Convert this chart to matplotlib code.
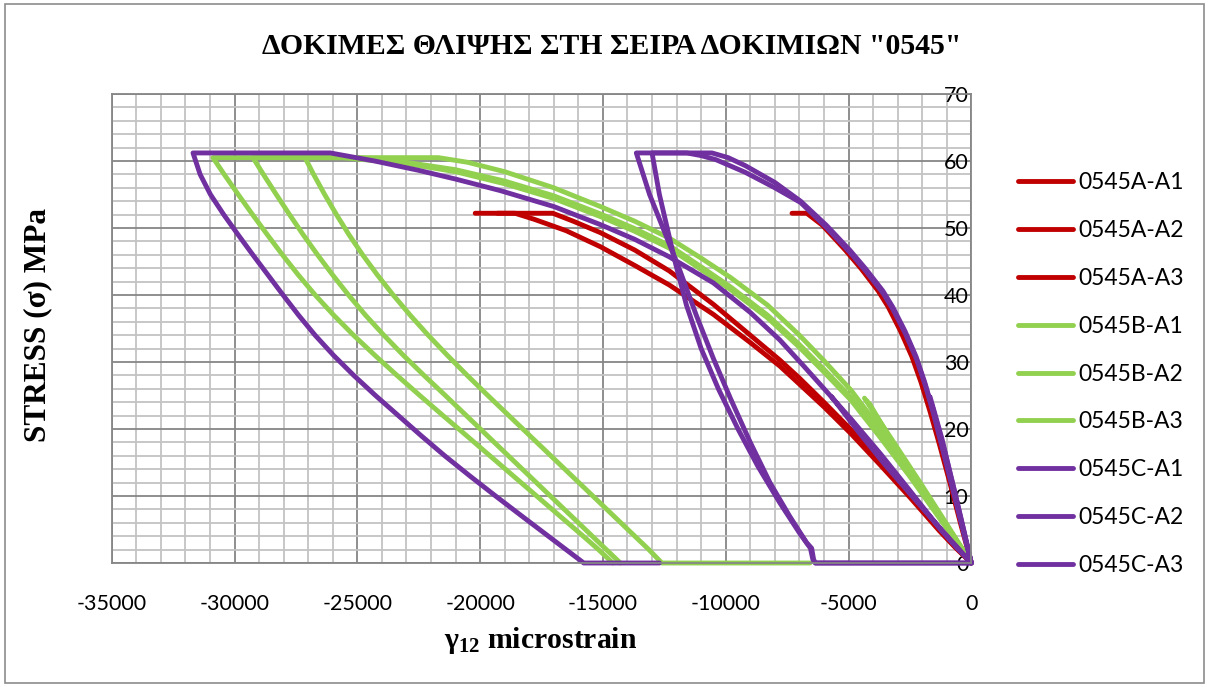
import matplotlib
matplotlib.use("Agg")
import matplotlib.pyplot as plt
from matplotlib.patches import Rectangle
from matplotlib.ticker import MultipleLocator

# shear strain (microstrain) / stress (MPa) readings for each specimen
# series A
a1_x = [0, -650, -1300, -2500, -3700, -4900, -6000, -7000, -7800, -9000, -10500,
        -12300, -13700, -15100, -16200, -17040, -20200]
a1_y = [0, 2.4, 5.0, 10.2, 15.2, 19.9, 24.0, 27.6, 30.3, 34.0, 38.6,
        43.6, 46.7, 49.3, 51.0, 52.2, 52.2]

a2_x = [0, -650, -1300, -2500, -3700, -4900, -6000, -7000, -7800, -9000, -10500,
        -12300, -13700, -15100, -16500, -17800, -18580, -19300]
a2_y = [0, 2.3, 4.8, 9.8, 14.6, 19.3, 23.3, 26.7, 29.4, 32.9, 37.1,
        41.5, 44.4, 47.2, 49.6, 51.3, 52.2, 52.2]

a3_x = [0, -440, -860, -1290, -1680, -2050, -2420, -2880, -3380, -3790, -4480,
        -5130, -6060, -6700, -7300]
a3_y = [0, 5.9, 11.8, 17.6, 22.6, 27.0, 30.8, 34.6, 38.2, 40.6, 43.9,
        46.7, 50.4, 52.2, 52.2]

# series B
b1_x = [-4350, -3300, -2100, -1000, 0, -650, -1300, -2500, -3700, -4900, -6000,
        -7000, -8300, -9800, -11000, -12300, -13700, -15100, -17000, -19000,
        -20500, -21700, -27130, -26780, -26330, -25850, -25340, -24785, -24185,
        -23540, -22850, -22115, -21335, -20525, -19685, -18830, -17975, -17120,
        -16265, -15410, -14555, -13700, -13130, -12600, -6570]
b1_y = [24.6, 18.8, 12.1, 5.8, 0, 3.6, 7.2, 13.8, 20.0, 25.8, 30.2,
        34.0, 38.5, 42.6, 45.5, 48.5, 51.0, 53.2, 56.0, 58.4,
        59.8, 60.5, 60.5, 58, 55, 52, 49, 46, 43,
        40, 37, 34, 31, 28, 25, 22, 19, 16,
        13, 10, 7, 4, 2, 0, 0]

b2_x = [-4250, -3250, -2050, -1000, 0, -650, -1300, -2500, -3700, -4900, -6000,
        -7000, -8300, -9800, -11000, -12300, -13700, -15100, -17000, -19000,
        -21000, -23000, -25000, -29250, -28825, -28300, -27760, -27205, -26620,
        -26005, -25360, -24670, -23920, -23125, -22285, -21415, -20560, -19705,
        -18850, -17995, -17140, -16285, -15430, -14860, -14290]
b2_y = [24.2, 18.2, 11.6, 5.5, 0, 3.4, 6.9, 13.2, 19.1, 24.7, 28.9,
        32.6, 37.0, 41.2, 44.2, 47.4, 49.9, 52.1, 54.8, 57.0,
        58.7, 59.8, 60.5, 60.5, 58, 55, 52, 49, 46,
        43, 40, 37, 34, 31, 28, 25, 22, 19,
        16, 13, 10, 7, 4, 2, 0]

b3_x = [-4150, -3200, -2000, -950, 0, -650, -1300, -2500, -3700, -4900, -6000,
        -7000, -8300, -9800, -11000, -12300, -13700, -15100, -17000, -19000,
        -21000, -23000, -25600, -30880, -30420, -29850, -29265, -28665, -28050,
        -27405, -26715, -25965, -25155, -24285, -23385, -22455, -21510, -20550,
        -19600, -18650, -17700, -16750, -15800, -15180, -14600]
b3_y = [23.8, 17.9, 11.2, 5.2, 0, 3.3, 6.7, 12.9, 18.7, 24.3, 28.5,
        32.2, 36.6, 40.8, 43.8, 47.0, 49.5, 51.7, 54.4, 56.6,
        58.4, 59.6, 60.5, 60.5, 58, 55, 52, 49, 46,
        43, 40, 37, 34, 31, 28, 25, 22, 19,
        16, 13, 10, 7, 4, 2, 0]

# series C
c1_x = [-5685, -4600, -3500, -2300, -1100, 0, -650, -1300, -2500, -3700, -4900,
        -5700, -6800, -7800, -9000, -10500, -12300, -13700, -15100, -17000,
        -19200, -21000, -22500, -24300, -26100, -31690, -31400, -30980, -30440,
        -29855, -29255, -28640, -28025, -27395, -26720, -25970, -25145, -24260,
        -23330, -22400, -21440, -20420, -19370, -18300, -17220, -16500, -15780,
        -12700]
c1_y = [24.8, 19.6, 14.6, 9.5, 4.5, 0, 2.5, 5.2, 10.8, 16.3, 21.5,
        24.8, 29.3, 33.3, 37.4, 41.8, 45.7, 48.3, 50.5, 53.2,
        55.6, 57.3, 58.6, 60.0, 61.2, 61.2, 58, 55, 52,
        49, 46, 43, 40, 37, 34, 31, 28, 25,
        22, 19, 16, 13, 10, 7, 4, 2, 0,
        0]

c2_x = [-1680, -1200, -700, -300, 0, -400, -800, -1200, -1550, -1900, -2250,
        -2700, -3200, -3600, -4300, -4950, -5900, -6950, -8000, -9200, -9900,
        -10560, -13640, -13100, -12500, -11850, -11200, -10500, -9800, -9000,
        -8200, -7400, -6700, -6500, -6420, -6350, 0]
c2_y = [24.8, 18.6, 11.0, 4.8, 0, 5.9, 11.8, 17.6, 22.6, 27.0, 30.8,
        34.6, 38.2, 40.6, 43.9, 46.7, 50.4, 54.0, 56.8, 59.3, 60.5,
        61.2, 61.2, 55.0, 49.5, 43.5, 37.0, 30.5, 24.5, 18.0,
        12.0, 7.0, 3.0, 2.2, 0.5, 0, 0]

c3_x = [-1600, -1150, -650, -280, 0, -380, -780, -1180, -1530, -1880, -2230,
        -2680, -3180, -3580, -4280, -4930, -5880, -6950, -8000, -9200, -10400,
        -11000, -11580, -13000, -12700, -12350, -12050, -11600, -11000, -10300,
        -9500, -8700, -7800, -7000, -6550, -6450, -6350, 0]
c3_y = [23.6, 17.6, 10.2, 4.4, 0, 5.6, 11.4, 17.2, 22.2, 26.6, 30.4,
        34.2, 37.8, 40.2, 43.5, 46.3, 50.0, 53.8, 56.0, 58.3, 60.2,
        60.8, 61.2, 61.2, 55.0, 49.5, 44.8, 38.5, 32.0, 26.0,
        20.0, 14.5, 9.0, 4.5, 2.2, 0.5, 0, 0]

labels = ["0545A-A1", "0545A-A2", "0545A-A3",
          "0545B-A1", "0545B-A2", "0545B-A3",
          "0545C-A1", "0545C-A2", "0545C-A3"]
series = [(a1_x, a1_y), (a2_x, a2_y), (a3_x, a3_y),
          (b1_x, b1_y), (b2_x, b2_y), (b3_x, b3_y),
          (c1_x, c1_y), (c2_x, c2_y), (c3_x, c3_y)]
colors = ["#C00000"] * 3 + ["#92D050"] * 3 + ["#7030A0"] * 3

plt.rcParams["axes.unicode_minus"] = False
plt.rcParams["mathtext.fontset"] = "custom"
plt.rcParams["mathtext.rm"] = "Liberation Serif:bold"
plt.rcParams["mathtext.it"] = "Liberation Serif:bold"
plt.rcParams["mathtext.bf"] = "Liberation Serif:bold"

major_col = "#868686"
minor_col = "#c3c3c3"

fig = plt.figure(figsize=(12.09, 6.87), dpi=100)
ax = fig.add_axes([0.0924, 0.1805, 0.7110, 0.6827])

for (xs, ys), lab, col in zip(series, labels, colors):
    ax.plot(xs, ys, color=col, lw=3.5, label=lab, clip_on=False,
            solid_capstyle="round", solid_joinstyle="round")

ax.set_xlim(-35000, 0)
ax.set_ylim(0, 70)
ax.xaxis.set_major_locator(MultipleLocator(5000))
ax.xaxis.set_minor_locator(MultipleLocator(1000))
ax.yaxis.set_major_locator(MultipleLocator(10))
ax.yaxis.set_minor_locator(MultipleLocator(2))
ax.grid(which="minor", color=minor_col, lw=1.3, zorder=0)
ax.grid(which="major", color=major_col, lw=1.3, zorder=0)
ax.set_axisbelow(True)

# y labels sit next to the x=0 line, inside the plot
ax.spines["left"].set_position(("data", 0))
ax.spines["left"].set_visible(False)
for s in ["top", "right", "bottom"]:
    ax.spines[s].set_color(major_col)
    ax.spines[s].set_linewidth(1.3)
ax.axvline(-35000, color=major_col, lw=1.3, clip_on=False)

ax.tick_params(axis="both", which="both", length=0)
ax.tick_params(axis="x", pad=22)
ax.tick_params(axis="y", pad=2)
for lab in ax.get_xticklabels() + ax.get_yticklabels():
    lab.set_fontfamily("Lato")
    lab.set_fontsize(15.5)

fig.suptitle('ΔΟΚΙΜΕΣ ΘΛΙΨΗΣ ΣΤΗ ΣΕΙΡΑ ΔΟΚΙΜΙΩΝ "0545"', x=0.506, y=0.932,
             va="center", fontfamily="Liberation Serif", fontweight="bold",
             fontsize=21.4)
fig.text(0.0314, 0.527, "STRESS (σ) MPa", rotation=90, ha="center", va="center",
         fontfamily="Liberation Serif", fontweight="bold", fontsize=22.5)
fig.text(0.4475, 0.068, r"$\gamma_{12}$ microstrain", ha="center", va="center",
         fontfamily="Liberation Serif", fontweight="bold", fontsize=21.4)

ax.legend(loc="upper left", bbox_to_anchor=(1018 / 1209, 0.749),
          bbox_transform=fig.transFigure, frameon=False, borderpad=0,
          borderaxespad=0, handlelength=2.4, handletextpad=0.22,
          labelspacing=1.17, prop={"family": "Lato", "size": 16.5})

fig.add_artist(Rectangle((0.004, 0.006), 0.992, 0.988, transform=fig.transFigure,
                         fill=False, edgecolor="#8c8c8c", lw=1.2))

fig.savefig("out.png", dpi=100)
